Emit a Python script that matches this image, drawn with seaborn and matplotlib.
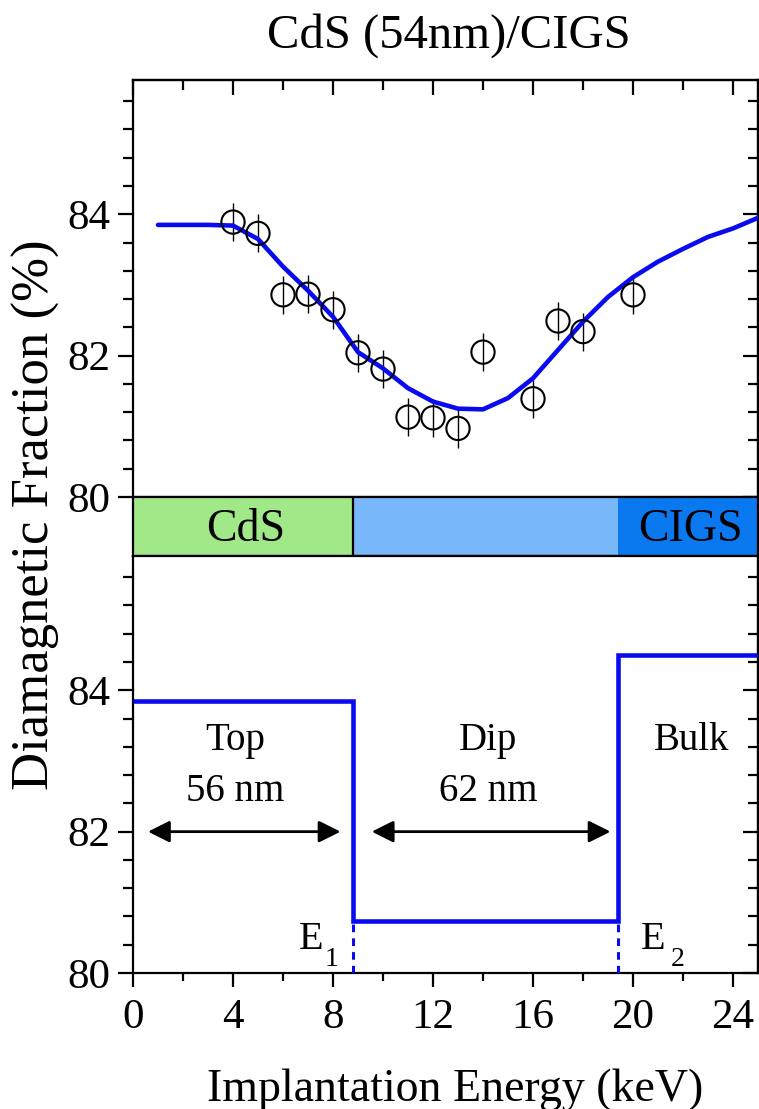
import matplotlib
matplotlib.use("Agg")
import matplotlib.pyplot as plt
from matplotlib.ticker import MultipleLocator
import pandas as pd
import seaborn as sns

# Measured diamagnetic fraction vs. implantation energy
energy = [4, 5, 6, 7, 8, 9, 10, 11, 12, 13, 14, 16, 17, 18, 20]
fraction = [83.89, 83.73, 82.86, 82.87, 82.65, 82.04, 81.81, 81.13,
            81.12, 80.97, 82.05, 81.39, 82.49, 82.34, 82.86]
fraction_err = [0.27, 0.27, 0.27, 0.27, 0.27, 0.27, 0.27, 0.27,
                0.27, 0.27, 0.27, 0.27, 0.27, 0.27, 0.27]

# Model fit through the data
fit_energy = [1, 2, 3, 4, 5, 6, 7, 8, 9, 10, 11, 12, 13, 14, 15, 16, 17,
              18, 19, 20, 21, 22, 23, 24, 25]
fit_fraction = [83.85, 83.85, 83.85, 83.84, 83.65, 83.26, 82.92, 82.55,
                82.05, 81.82, 81.54, 81.35, 81.25, 81.24, 81.40, 81.68,
                82.08, 82.48, 82.83, 83.11, 83.33, 83.51, 83.68, 83.80,
                83.95]

# Three-layer step model
layer_edges = [0.0, 8.8, 19.4, 25.0]
layer_levels = [83.85, 80.73, 84.50]
band_names = ["CdS", "", "CIGS"]
band_colors = ["#a0e888", "#78b8fa", "#0a78ee"]
region_names = ["Top", "Dip", "Bulk"]
region_widths = ["56 nm", "62 nm", ""]
region_centers = [4.1, 14.2, 22.36]
arrow_spans = [(0.6, 8.3), (9.55, 19.1)]

BLUE = "#0a0af0"
W, H = 759, 1109

sns.set_theme(style="ticks")
plt.rcParams["font.family"] = ["Liberation Serif", "DejaVu Serif"]
plt.rcParams.update({
    "axes.linewidth": 1.6,
    "text.color": "black",
    "axes.labelcolor": "black",
    "axes.edgecolor": "black",
    "xtick.color": "black",
    "ytick.color": "black",
})

fig = plt.figure(figsize=(W / 100, H / 100), dpi=100)
left, width = 133 / W, 625 / W
ax_top = fig.add_axes([left, 1 - 497 / H, width, (497 - 80) / H])
ax_band = fig.add_axes([left, 1 - 556 / H, width, (556 - 497) / H])
ax_bot = fig.add_axes([left, 1 - 973 / H, width, (973 - 556) / H])

TICK_FS = 31


def style_axis(ax, show_bottom):
    ax.set_xlim(0, 25)
    ax.set_ylim(80, 85.9)
    ax.yaxis.set_major_locator(MultipleLocator(2))
    ax.yaxis.set_minor_locator(MultipleLocator(0.4))
    ax.xaxis.set_major_locator(MultipleLocator(4))
    ax.xaxis.set_minor_locator(MultipleLocator(2))
    ax.tick_params(axis="y", which="major", direction="out", length=11,
                   width=1.6, labelsize=TICK_FS, pad=5, left=True, right=False)
    ax.tick_params(axis="y", which="minor", direction="out", length=7,
                   width=1.6, left=True, right=False)
    ax.tick_params(axis="x", which="major", direction="out", length=10,
                   width=1.6, labelsize=TICK_FS, pad=8,
                   bottom=show_bottom, labelbottom=show_bottom, top=False)
    ax.tick_params(axis="x", which="minor", direction="out", length=6,
                   width=1.6, bottom=show_bottom, top=False)
    # inward ticks on the right edge
    sec = ax.secondary_yaxis("right")
    sec.yaxis.set_major_locator(MultipleLocator(2))
    sec.yaxis.set_minor_locator(MultipleLocator(0.4))
    sec.tick_params(which="major", direction="in", length=11, width=1.6,
                    labelright=False)
    sec.tick_params(which="minor", direction="in", length=7, width=1.6)
    sec.spines["right"].set_linewidth(1.6)
    for s in ax.spines.values():
        s.set_visible(True)
        s.set_linewidth(1.6)
        s.set_color("black")


# ---- upper panel: data and fit ----
style_axis(ax_top, show_bottom=False)
sec_top = ax_top.secondary_xaxis("top")
sec_top.xaxis.set_major_locator(MultipleLocator(4))
sec_top.xaxis.set_minor_locator(MultipleLocator(2))
sec_top.tick_params(which="major", direction="in", length=11, width=1.6,
                    labeltop=False)
sec_top.tick_params(which="minor", direction="in", length=7, width=1.6)

df = pd.DataFrame({"energy": energy, "fraction": fraction, "err": fraction_err})
fit_df = pd.DataFrame({"energy": fit_energy, "fraction": fit_fraction})

ax_top.errorbar(df["energy"], df["fraction"], yerr=df["err"], fmt="none",
                ecolor="black", elinewidth=1.0, capsize=0, zorder=2)
sns.lineplot(data=fit_df, x="energy", y="fraction", ax=ax_top, color=BLUE,
             linewidth=3.3, sort=False, zorder=3)
sns.scatterplot(data=df, x="energy", y="fraction", ax=ax_top, marker="o",
                s=280, facecolor="none", edgecolor="black", linewidth=1.5,
                zorder=4)
ax_top.set_xlabel("")
ax_top.set_ylabel("")

# ---- layer band ----
ax_band.set_xlim(0, 25)
ax_band.set_ylim(0, 1)
ax_band.set_xticks([])
ax_band.set_yticks([])
for i in range(3):
    ax_band.axvspan(layer_edges[i], layer_edges[i + 1], color=band_colors[i],
                    lw=0, zorder=1)
ax_band.axvline(layer_edges[1], color="black", lw=1.6, zorder=2)
for s in ax_band.spines.values():
    s.set_linewidth(1.6)
    s.set_color("black")
band_text_x = [4.5, None, 22.3]
for i, name in enumerate(band_names):
    if name:
        ax_band.text(band_text_x[i], 0.45, name, ha="center", va="center",
                     fontsize=33, color="black", zorder=3)

# ---- lower panel: step model ----
style_axis(ax_bot, show_bottom=True)
ax_bot.stairs(layer_levels, layer_edges, baseline=None, color=BLUE,
              linewidth=3.3, zorder=3)
for e in layer_edges[1:3]:
    ax_bot.vlines(e, 80, layer_levels[1], colors=BLUE, linestyles=(0, (2.5, 2)),
                  linewidth=2.2, zorder=3)

for cx, name, w in zip(region_centers, region_names, region_widths):
    ax_bot.text(cx, 83.15, name, ha="center", va="baseline", fontsize=28)
    if w:
        ax_bot.text(cx, 82.44, w, ha="center", va="baseline", fontsize=28)

for x0, x1 in arrow_spans:
    ax_bot.annotate("", xy=(x0, 82.0), xytext=(x1, 82.0),
                    arrowprops=dict(arrowstyle="<|-|>,head_length=1.1,head_width=0.55",
                                    color="black", lw=2.0,
                                    shrinkA=0, shrinkB=0))

# Boundary energies
ax_bot.text(7.6, 80.34, "E", ha="right", va="baseline", fontsize=29)
ax_bot.text(7.65, 80.10, "1", ha="left", va="baseline", fontsize=20)
ax_bot.text(20.3, 80.34, "E", ha="left", va="baseline", fontsize=29)
ax_bot.text(21.5, 80.10, "2", ha="left", va="baseline", fontsize=20)

# Titles and axis labels
fig.text(449 / W, 1 - 48 / H, "CdS (54nm)/CIGS", ha="center",
         va="baseline", fontsize=35)
fig.text(36 / W, 1 - 515 / H, "Diamagnetic Fraction (%)", ha="center",
         va="center", rotation=90, fontsize=38)
fig.text(455 / W, 1 - 1101 / H, "Implantation Energy (keV)", ha="center",
         va="baseline", fontsize=33)

fig.savefig("out.png", dpi=100)
